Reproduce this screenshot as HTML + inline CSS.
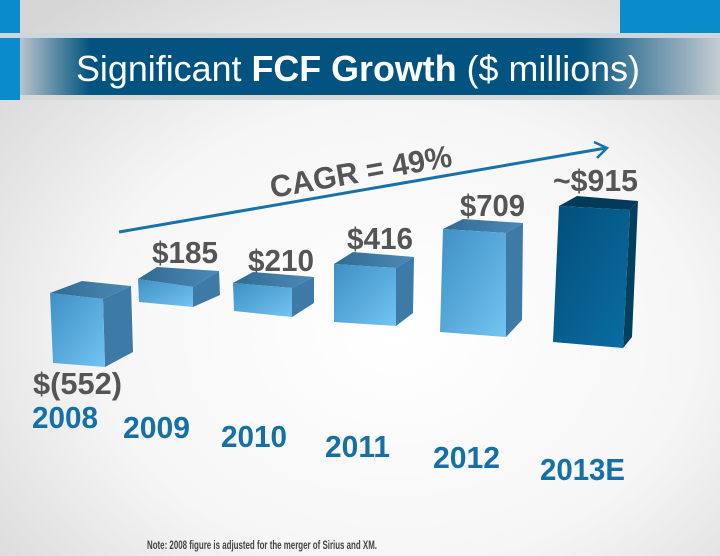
<!DOCTYPE html>
<html><head><meta charset="utf-8"><style>
html,body{margin:0;padding:0;width:720px;height:556px;overflow:hidden}
svg{display:block}
text{font-family:"Liberation Sans",Arial,sans-serif}
</style></head><body>
<svg width="720" height="556" viewBox="0 0 720 556" xmlns="http://www.w3.org/2000/svg">
<defs>
<radialGradient id="bg" cx="0.55" cy="0.6" r="0.75">
<stop offset="0" stop-color="#ffffff"/><stop offset="0.55" stop-color="#f6f6f6"/><stop offset="1" stop-color="#d6d6d6"/>
</radialGradient>
<linearGradient id="band" x1="0" x2="1" y1="0" y2="0">
<stop offset="0" stop-color="#b8c4cc"/><stop offset="0.1" stop-color="#02537f"/><stop offset="0.8" stop-color="#02537f"/><stop offset="1" stop-color="#c5ccd2"/>
</linearGradient>
<linearGradient id="front" x1="0" y1="0" x2="1" y2="1">
<stop offset="0" stop-color="#3f8fc4"/><stop offset="1" stop-color="#72c4f2"/>
</linearGradient>
<linearGradient id="top" x1="0" y1="0" x2="1" y2="0">
<stop offset="0" stop-color="#2f6a92"/><stop offset="1" stop-color="#4c8ab6"/>
</linearGradient>
<linearGradient id="front2" x1="0" y1="0" x2="1" y2="1">
<stop offset="0" stop-color="#034e7a"/><stop offset="1" stop-color="#0a6ea3"/>
</linearGradient>
</defs>
<rect width="720" height="556" fill="url(#bg)"/>
<rect x="0" y="0" width="20" height="100" fill="#0a8ccc"/>
<rect x="620" y="0" width="100" height="34" fill="#0a8ccc"/>
<rect x="0" y="33" width="720" height="5" fill="#cdd6dc"/>
<rect x="20" y="38" width="700" height="57" fill="url(#band)"/>
<rect x="0" y="95" width="720" height="5" fill="#d6dadd"/>
<rect x="0" y="38" width="20" height="62" fill="#0a8ccc"/>
<text x="76" y="81" font-size="36" fill="#fff" textLength="564" lengthAdjust="spacingAndGlyphs">Significant <tspan font-weight="bold">FCF Growth</tspan> ($ millions)</text>
<line x1="119" y1="232" x2="606" y2="148" stroke="#1672a8" stroke-width="3"/>
<polyline points="594,142 607,148 597,158" fill="none" stroke="#1672a8" stroke-width="2.5"/>
<text transform="translate(272,198) rotate(-10)" font-size="31" font-weight="bold" fill="#555" textLength="184" lengthAdjust="spacingAndGlyphs">CAGR = 49%</text>
<g stroke="none">
<polygon points="50,293 82,281 131,286 103,299" fill="url(#top)"/>
<polygon points="103,299 131,286 133,352 105,367" fill="#3d7aa6"/>
<polygon points="50,293 103,299 105,367 53,363" fill="url(#front)"/>
<polygon points="138,279 157,267 219,271 193,287" fill="url(#top)"/>
<polygon points="193,287 219,271 220,295 193,307" fill="#3d7aa6"/>
<polygon points="138,279 193,287 193,307 139,302" fill="url(#front)"/>
<polygon points="233,283 253,272 314,277 292,288" fill="url(#top)"/>
<polygon points="292,288 314,277 314,303 292,317" fill="#3d7aa6"/>
<polygon points="233,283 292,288 292,317 234,311" fill="url(#front)"/>
<polygon points="334,264 353,252 414,257 396,268" fill="url(#top)"/>
<polygon points="396,268 414,257 413,313 396,326" fill="#3d7aa6"/>
<polygon points="334,264 396,268 396,326 334,322" fill="url(#front)"/>
<polygon points="443,229 463,219 523,223 506,233" fill="url(#top)"/>
<polygon points="506,233 523,223 522,320 506,337" fill="#3d7aa6"/>
<polygon points="443,229 506,233 506,337 440,332" fill="url(#front)"/>
<polygon points="559,206 577,196 638,201 630,210" fill="#033a5a"/>
<polygon points="630,210 638,201 632,337 623,348" fill="#03405f"/>
<polygon points="559,206 630,210 623,348 553,342" fill="url(#front2)"/>
</g>
<g font-size="31" font-weight="bold" fill="#555">
<text x="152" y="263" textLength="66" lengthAdjust="spacingAndGlyphs">$185</text>
<text x="248" y="271" textLength="66" lengthAdjust="spacingAndGlyphs">$210</text>
<text x="347" y="249" textLength="66" lengthAdjust="spacingAndGlyphs">$416</text>
<text x="460" y="216" textLength="65" lengthAdjust="spacingAndGlyphs">$709</text>
<text x="553" y="191" textLength="85" lengthAdjust="spacingAndGlyphs">~$915</text>
<text x="33" y="394" textLength="89" lengthAdjust="spacingAndGlyphs">$(552)</text>
</g>
<g font-size="31" font-weight="bold" fill="#1470a6">
<text x="32" y="428" textLength="66" lengthAdjust="spacingAndGlyphs">2008</text>
<text x="123" y="438" textLength="67" lengthAdjust="spacingAndGlyphs">2009</text>
<text x="221" y="447" textLength="66" lengthAdjust="spacingAndGlyphs">2010</text>
<text x="325" y="457" textLength="65" lengthAdjust="spacingAndGlyphs">2011</text>
<text x="433" y="468" textLength="67" lengthAdjust="spacingAndGlyphs">2012</text>
<text x="540" y="480" textLength="85" lengthAdjust="spacingAndGlyphs">2013E</text>
</g>
<text x="147" y="549" font-size="12" font-weight="bold" fill="#444" textLength="230" lengthAdjust="spacingAndGlyphs">Note: 2008 figure is adjusted for the merger of Sirius and XM.</text>
</svg>
</body></html>
